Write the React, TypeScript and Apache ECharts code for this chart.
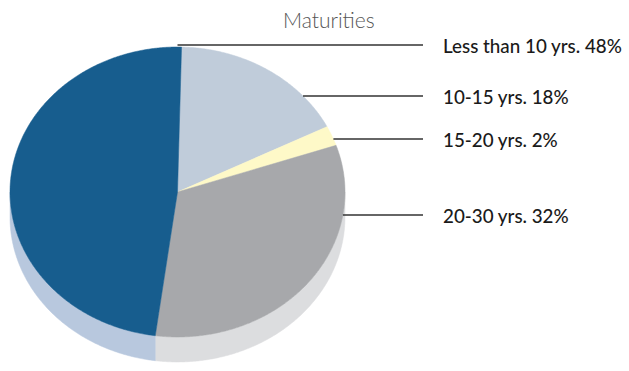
import React, { useEffect, useRef } from "react";
import * as echarts from "echarts";

const title = "Maturities";
// slices in clockwise order starting near 12 o'clock
const categories = ["10-15 yrs.", "15-20 yrs.", "20-30 yrs.", "Less than 10 yrs."];
const values = [18, 2, 32, 48];
const topColors = ["#c0ccda", "#fef9c8", "#a7a8ab", "#175d8e"];
const sideColors = ["#a9b8ca", "#ece5ac", "#dcdddf", "#b8c8de"];
// label row positions (layout)
const labelY = [96, 139, 215, 45];

const CX = 177.5;
const CY = 192;
const RX = 167.5;
const RY = 145;
const DEPTH = 25;
const START = 1.6;
const LINE_END = 423;
const TEXT_X = 443;

const total = values.reduce((s, v) => s + v, 0);

function pt(deg: number, dy = 0): number[] {
  const t = (deg * Math.PI) / 180;
  const s = Math.sin(t);
  const c = Math.cos(t);
  const r = 1 / Math.sqrt((s / RX) * (s / RX) + (c / RY) * (c / RY));
  return [CX + r * s, CY - r * c + dy];
}

function arc(a: number, b: number, dy = 0): number[][] {
  const pts: number[][] = [];
  const n = Math.max(2, Math.ceil(Math.abs(b - a) / 0.5));
  for (let k = 0; k <= n; k++) pts.push(pt(a + ((b - a) * k) / n, dy));
  return pts;
}

export default function App() {
  const ref = useRef<HTMLDivElement>(null);
  useEffect(() => {
    if (!ref.current) return;
    const chart = echarts.init(ref.current, undefined, { renderer: "svg" });
    const renderSide = (params: any, api: any) => {
      const i = params.dataIndex;
      const before = values.slice(0, i).reduce((s, v) => s + v, 0);
      const a = START + (before / total) * 360;
      const b = a + (api.value(0) / total) * 360;
      const lo = Math.max(a, 90);
      const hi = Math.min(b, 270);
      if (lo >= hi) return { type: "group", children: [] };
      const pts = arc(lo, hi).concat(arc(hi, lo, DEPTH));
      return {
        type: "polygon",
        shape: { points: pts },
        style: { fill: sideColors[i], stroke: sideColors[i], lineWidth: 0.5 },
      };
    };
    const renderTop = (params: any, api: any) => {
      const i = params.dataIndex;
      const before = values.slice(0, i).reduce((s, v) => s + v, 0);
      const a = START + (before / total) * 360;
      const b = a + (api.value(0) / total) * 360;
      const pts = [[CX, CY]].concat(arc(a, b));
      const y = labelY[i];
      let x0 = CX;
      if (y > CY - RY) {
        const r = (y - CY) / RY;
        x0 = CX + RX * Math.sqrt(Math.max(0, 1 - r * r));
      }
      const pct = Math.round((api.value(0) / total) * 100);
      return {
        type: "group",
        children: [
          {
            type: "polygon",
            shape: { points: pts },
            style: { fill: topColors[i], stroke: topColors[i], lineWidth: 0.5 },
          },
          {
            type: "line",
            shape: { x1: x0, y1: y, x2: LINE_END, y2: y },
            style: { stroke: "#333333", lineWidth: 1.6 },
          },
          {
            type: "text",
            x: TEXT_X,
            y: y,
            style: {
              text: `${categories[i]} ${pct}%`,
              fill: "#1a1a1a",
              font: "500 18.8px Lato",
              verticalAlign: "middle",
              align: "left",
            },
          },
        ],
      };
    };
    chart.setOption({
      animation: false,
      title: {
        text: title,
        left: 278,
        top: 4,
        textStyle: { fontFamily: "Lato", fontWeight: 300, fontSize: 21, color: "#555555" },
      },
      series: [
        {
          type: "custom",
          coordinateSystem: "none",
          z: 1,
          data: values.map((v) => [v]),
          renderItem: renderSide,
        },
        {
          type: "custom",
          coordinateSystem: "none",
          z: 2,
          data: values.map((v) => [v]),
          renderItem: renderTop,
        },
      ],
    });
    return () => chart.dispose();
  }, []);
  return (
    <div
      ref={ref}
      style={{ position: "fixed", left: 0, top: 0, width: 629, height: 371, background: "#ffffff" }}
    />
  );
}
